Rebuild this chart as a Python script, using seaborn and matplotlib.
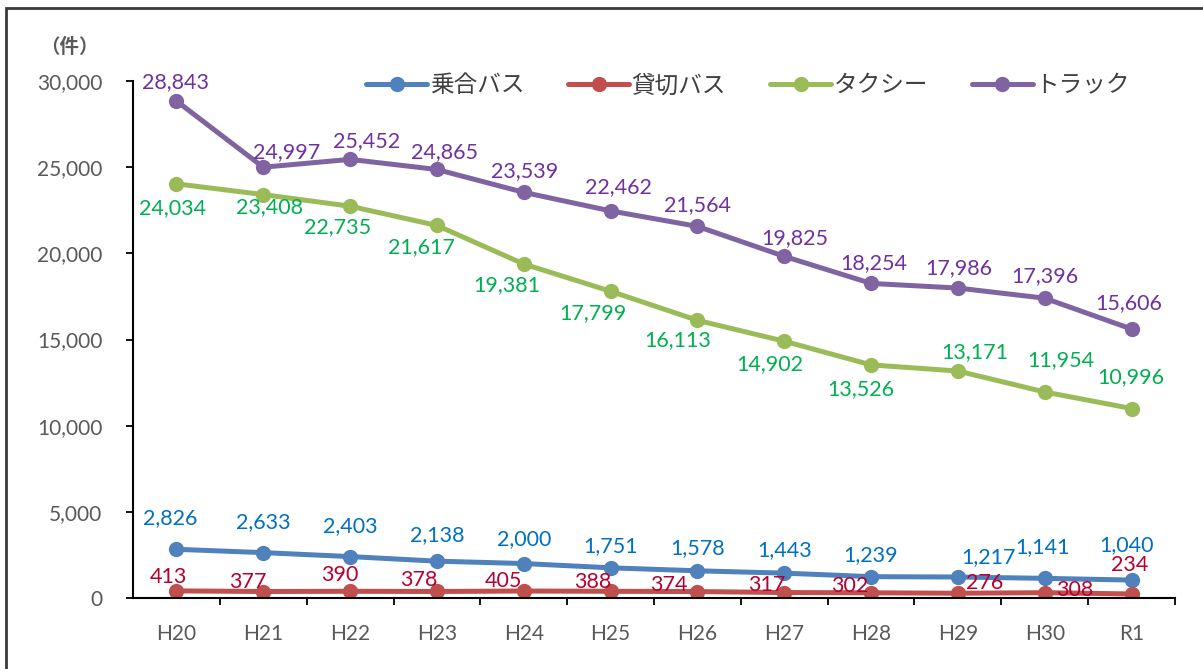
import matplotlib
matplotlib.use("Agg")
import matplotlib.pyplot as plt
from matplotlib.ticker import FixedLocator, FuncFormatter
from matplotlib.patches import Rectangle
import pandas as pd
import seaborn as sns

# データ
years = ["H20", "H21", "H22", "H23", "H24", "H25", "H26", "H27", "H28", "H29", "H30", "R1"]
series_names = ["乗合バス", "貸切バス", "タクシー", "トラック"]
route_bus = [2826, 2633, 2403, 2138, 2000, 1751, 1578, 1443, 1239, 1217, 1141, 1040]
charter_bus = [413, 377, 390, 378, 405, 388, 374, 317, 302, 276, 308, 234]
taxi = [24034, 23408, 22735, 21617, 19381, 17799, 16113, 14902, 13526, 13171, 11954, 10996]
truck = [28843, 24997, 25452, 24865, 23539, 22462, 21564, 19825, 18254, 17986, 17396, 15606]
y_ticks = [0, 5000, 10000, 15000, 20000, 25000, 30000]

line_colors = ["#4F81BD", "#C0504D", "#9BBB59", "#8064A2"]
label_colors = ["#0070C0", "#B8002E", "#00B050", "#7030A0"]

# ラベル位置 (px)
label_offsets = [
    [(-6, 31), (0, 31), (0, 30), (0, 26), (0, 24), (0, 22), (0, 23), (0, 23), (0, 22), (31, 20), (-2, 31), (-5, 35)],
    [(-8, 14), (-15, 10), (-10, 16), (-18, 11), (-20, 10), (-18, 9), (-29, 7), (-17, 8), (-21, 7), (27, 10), (30, 3), (-2, 29)],
    [(-4, -24), (6, -12), (-13, -21), (-15, -22), (-17, -21), (-18, -22), (-20, -20), (-14, -23), (-10, -24), (17, 19), (16, 32), (-1, 31)],
    [(-1, 19), (23, 15), (16, 18), (8, 17), (1, 21), (8, 24), (0, 21), (11, 18), (3, 20), (1, 20), (0, 22), (-3, 26)],
]

all_values = [route_bus, charter_bus, taxi, truck]
df = pd.DataFrame({
    "year": years * 4,
    "type": [n for n in series_names for _ in years],
    "count": route_bus + charter_bus + taxi + truck,
})

sns.set_theme(style="white")
plt.rcParams["font.family"] = ["Lato", "Noto Sans CJK JP", "DejaVu Sans"]

fig = plt.figure(figsize=(12.03, 6.69), dpi=100)
ax = fig.add_axes([133 / 1203, 1 - 598 / 669, (1175 - 133) / 1203, (598 - 81) / 669])

sns.lineplot(data=df, x="year", y="count", hue="type", hue_order=series_names,
             palette=line_colors, marker="o", markersize=11, markeredgewidth=0,
             linewidth=3.6, sort=False, ax=ax)

for vals, offs, col in zip(all_values, label_offsets, label_colors):
    for i, (v, (dx, dy)) in enumerate(zip(vals, offs)):
        ax.annotate(f"{v:,}", (i, v), xytext=(dx, dy), textcoords="offset pixels",
                    ha="center", va="center", fontsize=15.5, color=col, zorder=5)

ax.set_xlim(-0.5, len(years) - 0.5)
ax.set_ylim(0, 30000)
ax.set_yticks(y_ticks)
ax.yaxis.set_major_formatter(FuncFormatter(lambda v, p: f"{int(v):,}"))
ax.set_xlabel("")
ax.set_ylabel("")

ax.xaxis.set_minor_locator(FixedLocator([i + 0.5 for i in range(len(years))]))
ax.tick_params(axis="x", which="major", length=0, pad=19, labelsize=15, labelcolor="#595959")
ax.tick_params(axis="x", which="minor", bottom=True, length=5, width=1.3, color="black", direction="out")
ax.tick_params(axis="y", left=True, length=5, width=1.3, color="black", pad=17,
               labelsize=15, labelcolor="#595959")

for s in ["top", "right"]:
    ax.spines[s].set_visible(False)
for s in ["left", "bottom"]:
    ax.spines[s].set_color("black")
    ax.spines[s].set_linewidth(1.5)

handles, labels = ax.get_legend_handles_labels()
ax.legend(handles, labels, loc="center", bbox_to_anchor=(748 / 1203, 1 - 85 / 669),
          bbox_transform=fig.transFigure, ncol=4, frameon=False, fontsize=17,
          handlelength=2.6, handletextpad=0.1, columnspacing=1.85,
          labelcolor="#404040")

fig.text(40 / 1203, 1 - 46 / 669, "（件）", fontsize=14, fontweight="bold",
         color="#595959", va="center", ha="left")

fig.patches.append(Rectangle((6 / 1203, -0.05), 1.1, 1 - 8 / 669 + 0.05,
                             transform=fig.transFigure, fill=False,
                             edgecolor="#3a3a3a", linewidth=2))

fig.savefig("out.png", dpi=100)
